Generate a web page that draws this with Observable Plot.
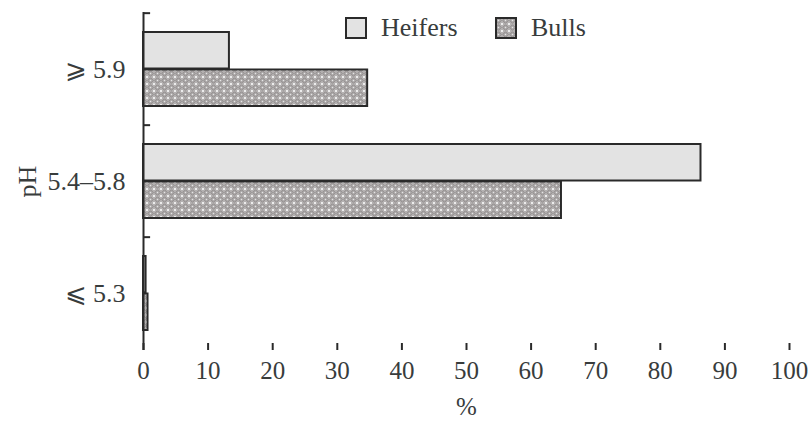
<!DOCTYPE html>
<html>
<head>
<meta charset="utf-8">
<script src="https://cdn.jsdelivr.net/npm/d3@7"></script>
<script src="https://cdn.jsdelivr.net/npm/@observablehq/plot@0.6"></script>
<style>
  html, body { margin: 0; padding: 0; background: #fff; }
  #wrap { position: relative; width: 810px; height: 423px; font-family: "Liberation Serif", "DejaVu Serif", serif; color: #383c3c; }
  #legend { position: absolute; left: 0; top: 0; }
  #legend .item { position: absolute; display: flex; align-items: center; font-size: 26px; }
</style>
</head>
<body>
<div id="wrap"><div id="chart"></div><div id="legend"></div></div>
<script>
const categories = ["⩾ 5.9", "5.4–5.8", "⩽ 5.3"];
const series = ["Heifers", "Bulls"];
const heifers = [13.3, 86.3, 0.4];
const bulls = [34.7, 64.7, 0.7];
const xTicks = [0, 10, 20, 30, 40, 50, 60, 70, 80, 90, 100];

const rows = [];
categories.forEach((c, i) => {
  rows.push({category: c, series: "Heifers", value: heifers[i]});
  rows.push({category: c, series: "Bulls", value: bulls[i]});
});

const ink = "#2a2a2a";
const textColor = "#383c3c";
const heiferFill = "#e3e3e3";
const patternId = "bullsPat";

const W = 810, H = 423, mT = 12, mB = 73, mL = 143, mR = 21;
const step = (H - mT - mB) / categories.length;

const chart = Plot.plot({
  width: W,
  height: H,
  marginLeft: mL,
  marginRight: mR,
  marginTop: mT,
  marginBottom: mB,
  style: {fontFamily: "'Liberation Serif', 'DejaVu Serif', serif", fontSize: "25px", color: textColor, background: "#fff"},
  x: {domain: [0, 100]},
  y: {domain: categories, padding: 0},
  marks: [
    Plot.barX(rows.filter(d => d.series === "Heifers"), {
      x: "value", y: "category", fill: heiferFill, stroke: ink, strokeWidth: 2,
      insetTop: 19, insetBottom: 56.5
    }),
    Plot.barX(rows.filter(d => d.series === "Bulls"), {
      x: "value", y: "category", fill: `url(#${patternId})`, stroke: ink, strokeWidth: 2,
      insetTop: 56.5, insetBottom: 19
    }),
    Plot.ruleX([0], {stroke: ink, strokeWidth: 2}),
    Plot.ruleY(categories, {y: d => d, x1: 0, x2: 1.1, stroke: ink, strokeWidth: 2, dy: -step / 2}),
    Plot.axisX({ticks: xTicks, tickSize: -7, tickFormat: () => "", stroke: ink, strokeWidth: 2, line: true, label: null}),
    Plot.axisX({ticks: xTicks, tickSize: 0, tickPadding: 11, fontSize: 25, fill: textColor, label: "%", labelArrow: "none", labelAnchor: "center", labelOffset: 64}),
    Plot.axisY({tickSize: 0, tickPadding: 18, fontSize: 26, fill: textColor, label: "pH", labelArrow: "none", labelAnchor: "center", labelOffset: 126})
  ]
});

// pattern defs
const svgNS = "http://www.w3.org/2000/svg";
function el(name, attrs) {
  const e = document.createElementNS(svgNS, name);
  for (const k in attrs) e.setAttribute(k, attrs[k]);
  return e;
}
function addPattern(svg, id) {
  const defs = el("defs", {});
  const p = el("pattern", {id, patternUnits: "userSpaceOnUse", width: 7, height: 7});
  p.appendChild(el("rect", {width: 7, height: 7, fill: "#b3b0b0"}));
  p.appendChild(el("path", {d: "M3.5,0.8L6.2,3.5L3.5,6.2L0.8,3.5Z", fill: "none", stroke: "#8c8888", "stroke-width": 1}));
  p.appendChild(el("rect", {x: 3, y: 3, width: 1, height: 1, fill: "#e6e6e6"}));
  p.appendChild(el("rect", {x: 0, y: 0, width: 1, height: 1, fill: "#ececec"}));
  p.appendChild(el("rect", {x: 6, y: 0, width: 1, height: 1, fill: "#ececec"}));
  p.appendChild(el("rect", {x: 0, y: 6, width: 1, height: 1, fill: "#ececec"}));
  p.appendChild(el("rect", {x: 6, y: 6, width: 1, height: 1, fill: "#ececec"}));
  defs.appendChild(p);
  svg.insertBefore(defs, svg.firstChild);
}
addPattern(chart, patternId);
document.getElementById("chart").appendChild(chart);

// legend
const legend = document.getElementById("legend");
const legendItems = [
  {name: series[0], fill: heiferFill, left: 345},
  {name: series[1], fill: `url(#lg${patternId})`, left: 495}
];
legendItems.forEach((it, i) => {
  const div = document.createElement("div");
  div.className = "item";
  div.style.left = it.left + "px";
  div.style.top = "13px";
  const sw = el("svg", {width: 22, height: 22});
  if (i === 1) addPattern(sw, "lg" + patternId);
  sw.appendChild(el("rect", {x: 1, y: 1, width: 20, height: 20, fill: it.fill, stroke: ink, "stroke-width": 2}));
  div.appendChild(sw);
  const t = document.createElement("span");
  t.textContent = it.name;
  t.style.marginLeft = "14px";
  div.appendChild(t);
  legend.appendChild(div);
});
</script>
</body>
</html>
